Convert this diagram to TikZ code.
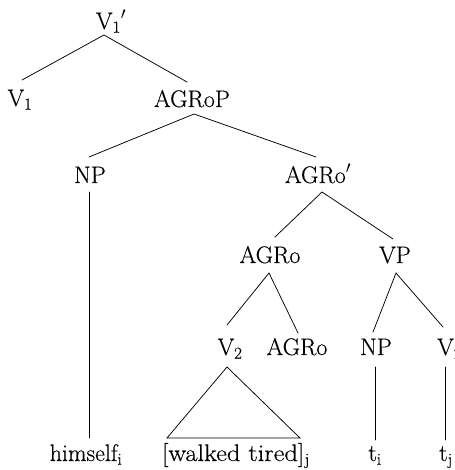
\documentclass[tikz,border=0pt]{standalone}
\usepackage{fontspec}
\newfontfamily\labfont{Latin Modern Roman}[FakeBold=0.35]
\newcommand{\sbs}[1]{\textsubscript{#1}}
\begin{document}
\begin{tikzpicture}[x=1pt,y=-1pt,
  lab/.style={anchor=base,inner sep=0pt,font=\labfont\fontsize{24}{28}\selectfont},
  edge/.style={line width=0.75pt,line cap=round}]
\useasboundingbox (0,0) rectangle (454,470);
% labels
\node[lab] (v1p) at (111,29) {V\sbs{1}$'$};
\node[lab] (v1) at (20,106) {V\sbs{1}};
\node[lab] (agrop) at (192,107) {AGRoP};
\node[lab] (np1) at (90,183) {NP};
\node[lab] (agrobar) at (318,183) {AGRo$'$};
\node[lab] (agro1) at (270,263) {AGRo};
\node[lab] (vp) at (395,263) {VP};
\node[lab] (v2a) at (230,355) {V\sbs{2}};
\node[lab] (agro2) at (297,355) {AGRo};
\node[lab] (np2) at (376,355) {NP};
\node[lab,anchor=base west] (v2b) at (437,355) {V\sbs{2}};
\node[lab] (himself) at (86,461) {himself\sbs{i}};
\node[lab,xscale=1.1] (walked) at (236,461) {[walked tired]\sbs{j}};
\node[lab] (ti) at (375,461) {t\sbs{i}};
\node[lab] (tj) at (446,461) {t\sbs{j}};
% attachment points
\coordinate (v1p-b) at (104,35);
\coordinate (v1-t) at (22,80);
\coordinate (agrop-t) at (187,82);
\coordinate (agrop-b) at (194,114);
\coordinate (np1-t) at (89,157);
\coordinate (agrobar-t) at (316,157);
\coordinate (np1-b) at (89,192);
\coordinate (himself-t) at (89,438);
\coordinate (agrobar-b) at (322,192);
\coordinate (agro1-t) at (275,237);
\coordinate (vp-t) at (393,239);
\coordinate (agro1-b) at (269,273);
\coordinate (v2a-t) at (227,325);
\coordinate (agro2-t) at (298,333);
\coordinate (vp-b) at (396,273);
\coordinate (np2-t) at (373,332);
\coordinate (v2b-t) at (443,327);
\coordinate (v2a-b) at (227,367);
\coordinate (tri-l) at (167,438);
\coordinate (tri-r) at (300,438);
\coordinate (np2-b) at (375,367);
\coordinate (ti-t) at (375,440);
\coordinate (v2b-b) at (445,367);
\coordinate (tj-t) at (445,440);
% edges
\draw[edge] (v1-t) -- (v1p-b) -- (agrop-t);
\draw[edge] (np1-t) -- (agrop-b) -- (agrobar-t);
\draw[edge] (np1-b) -- (himself-t);
\draw[edge] (agro1-t) -- (agrobar-b) -- (vp-t);
\draw[edge] (v2a-t) -- (agro1-b) -- (agro2-t);
\draw[edge] (np2-t) -- (vp-b) -- (v2b-t);
\draw[edge,line join=miter] (v2a-b) -- (tri-l) -- (tri-r) -- cycle;
\draw[edge] (np2-b) -- (ti-t);
\draw[edge] (v2b-b) -- (tj-t);
\end{tikzpicture}
\end{document}
